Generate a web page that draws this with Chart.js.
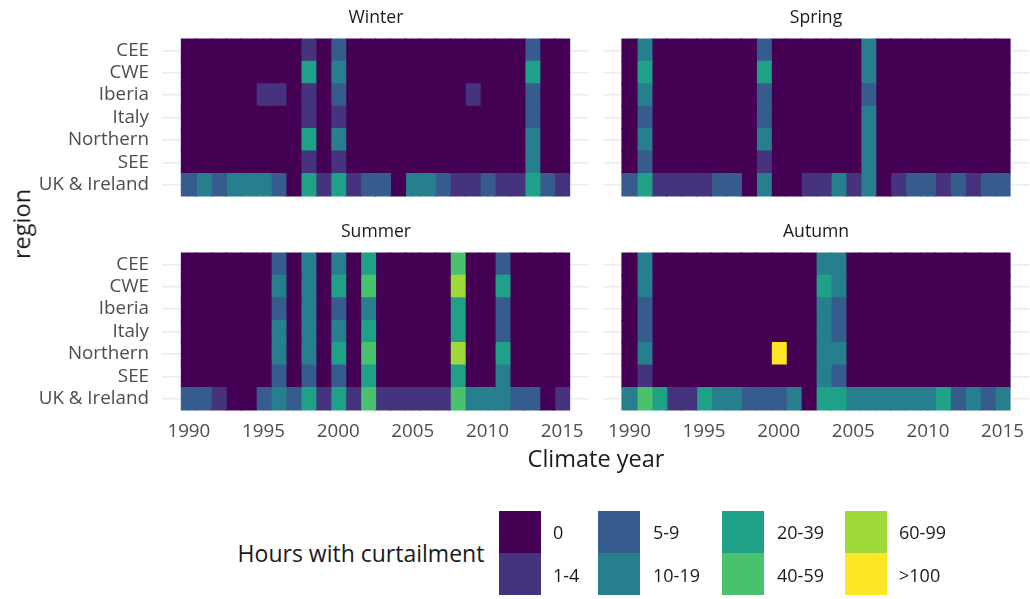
<!DOCTYPE html>
<html>
<head>
<meta charset="utf-8">
<script src="https://cdn.jsdelivr.net/npm/chart.js@4.4.0/dist/chart.umd.min.js"></script>
<style>
body { margin: 0; width: 1030px; height: 599px; background: #fff; position: relative; overflow: hidden; font-family: 'Open Sans', sans-serif; }
canvas { position: absolute; }
.txt { position: absolute; white-space: nowrap; line-height: 1; transform: translate(-50%, -50%); color: #1a1a1a; }
.key { position: absolute; width: 42px; height: 42px; }
.lab { position: absolute; white-space: nowrap; line-height: 1; transform: translateY(-50%); font-size: 18px; color: #1a1a1a; }
</style>
</head>
<body>
<canvas id="winter" width="600" height="210" style="left:0;top:0"></canvas>
<canvas id="spring" width="440" height="210" style="left:590px;top:0"></canvas>
<canvas id="summer" width="600" height="250" style="left:0;top:214px"></canvas>
<canvas id="autumn" width="440" height="250" style="left:590px;top:214px"></canvas>

<div class="txt" style="left:376px;top:17px;font-size:17.6px">Winter</div>
<div class="txt" style="left:816px;top:17px;font-size:17.6px">Spring</div>
<div class="txt" style="left:376px;top:231px;font-size:17.6px">Summer</div>
<div class="txt" style="left:816px;top:231px;font-size:17.6px">Autumn</div>
<div class="txt" style="left:596px;top:459px;font-size:23.5px">Climate year</div>
<div class="txt" style="left:22px;top:224px;font-size:23.5px;transform:translate(-50%,-50%) rotate(-90deg)">region</div>
<div class="txt" style="left:361px;top:553px;font-size:23px">Hours with curtailment</div>
<div id="legend"></div>

<script>
var years = [1990,1991,1992,1993,1994,1995,1996,1997,1998,1999,2000,2001,2002,
    2003,2004,2005,2006,2007,2008,2009,2010,2011,2012,2013,2014,2015];
var regions = ['CEE','CWE','Iberia','Italy','Northern','SEE','UK & Ireland'];
var classes = ['0','1-4','5-9','10-19','20-39','40-59','60-99','>100'];
var yearTicks = [1990,1995,2000,2005,2010,2015];
var yearMinor = [1992.5,1997.5,2002.5,2007.5,2012.5];

// class index (into classes) per region row, per climate year column
var winter = [
    [0,0,0,0,0,0,0,0,1,0,2,0,0,0,0,0,0,0,0,0,0,0,0,2,0,0],
    [0,0,0,0,0,0,0,0,4,0,3,0,0,0,0,0,0,0,0,0,0,0,0,4,0,0],
    [0,0,0,0,0,1,1,0,1,0,2,0,0,0,0,0,0,0,0,1,0,0,0,2,0,0],
    [0,0,0,0,0,0,0,0,1,0,1,0,0,0,0,0,0,0,0,0,0,0,0,2,0,0],
    [0,0,0,0,0,0,0,0,4,0,3,0,0,0,0,0,0,0,0,0,0,0,0,3,0,0],
    [0,0,0,0,0,0,0,0,1,0,1,0,0,0,0,0,0,0,0,0,0,0,0,3,0,0],
    [2,3,2,3,3,3,2,0,4,1,4,1,2,2,0,3,3,2,1,1,2,1,1,4,2,1]
];
var spring = [
    [0,3,0,0,0,0,0,0,0,2,0,0,0,0,0,0,3,0,0,0,0,0,0,0,0,0],
    [0,4,0,0,0,0,0,0,0,4,0,0,0,0,0,0,3,0,0,0,0,0,0,0,0,0],
    [0,3,0,0,0,0,0,0,0,2,0,0,0,0,0,0,2,0,0,0,0,0,0,0,0,0],
    [0,2,0,0,0,0,0,0,0,2,0,0,0,0,0,0,3,0,0,0,0,0,0,0,0,0],
    [0,3,0,0,0,0,0,0,0,3,0,0,0,0,0,0,3,0,0,0,0,0,0,0,0,0],
    [0,2,0,0,0,0,0,0,0,1,0,0,0,0,0,0,3,0,0,0,0,0,0,0,0,0],
    [2,4,1,1,1,1,2,2,0,3,0,0,1,1,3,1,3,0,1,2,2,1,2,1,2,2]
];
var summer = [
    [0,0,0,0,0,0,2,0,3,0,3,0,4,0,0,0,0,0,5,0,0,2,0,0,0,0],
    [0,0,0,0,0,0,3,0,3,0,4,0,5,0,0,0,0,0,6,0,0,4,0,0,0,0],
    [0,0,0,0,0,0,2,0,3,0,2,0,3,0,0,0,0,0,4,0,0,2,0,0,0,0],
    [0,0,0,0,0,0,3,0,3,0,3,0,4,0,0,0,0,0,4,0,0,2,0,0,0,0],
    [0,0,0,0,0,0,3,0,3,0,4,0,5,0,0,0,0,0,6,0,0,4,0,0,0,0],
    [0,0,0,0,0,0,2,0,2,0,2,0,4,0,0,0,0,0,4,0,0,3,0,0,0,0],
    [2,2,1,0,0,2,3,2,4,1,4,1,5,1,1,1,1,1,5,3,3,3,2,2,0,1]
];
var autumn = [
    [0,3,0,0,0,0,0,0,0,0,0,0,0,3,3,0,0,0,0,0,0,0,0,0,0,0],
    [0,3,0,0,0,0,0,0,0,0,0,0,0,4,3,0,0,0,0,0,0,0,0,0,0,0],
    [0,2,0,0,0,0,0,0,0,0,0,0,0,3,2,0,0,0,0,0,0,0,0,0,0,0],
    [0,2,0,0,0,0,0,0,0,0,0,0,0,3,2,0,0,0,0,0,0,0,0,0,0,0],
    [0,3,0,0,0,0,0,0,0,0,7,0,0,3,3,0,0,0,0,0,0,0,0,0,0,0],
    [0,1,0,0,0,0,0,0,0,0,0,0,0,3,2,0,0,0,0,0,0,0,0,0,0,0],
    [3,5,4,1,1,4,3,3,2,2,2,3,0,4,4,3,3,3,3,3,3,4,2,3,2,3]
];

var viridis = ['#440154','#46337E','#365C8D','#277F8E','#1FA187','#4AC16D','#9FDA3A','#FDE725'];
var font = {family: "'Open Sans', sans-serif", size: 18.8};
var gridColor = '#EBEBEB';

function noPad(s) {
    s.paddingTop = 0; s.paddingBottom = 0; s.paddingLeft = 0; s.paddingRight = 0;
}

function panel(id, season, showX, showY, pad, yw, xh) {
    var datasets = years.map(function (yr, j) {
        return {
            data: regions.map(function (r, i) { return {x: [yr - 0.5, yr + 0.5], y: i}; }),
            backgroundColor: regions.map(function (r, i) { return viridis[season[i][j]]; }),
            grouped: false,
            barPercentage: 1,
            categoryPercentage: 1,
            borderWidth: 0,
            inflateAmount: 0.6
        };
    });
    new Chart(document.getElementById(id), {
        type: 'bar',
        data: {datasets: datasets},
        options: {
            indexAxis: 'y',
            responsive: false,
            animation: false,
            layout: {padding: pad},
            plugins: {legend: {display: false}, tooltip: {enabled: false}},
            scales: {
                x: {
                    type: 'linear', min: 1988.2, max: 2016.8,
                    afterBuildTicks: function (s) {
                        s.ticks = yearTicks.concat(yearMinor).map(function (v) { return {value: v}; });
                    },
                    afterFit: function (s) { s.height = xh; noPad(s); },
                    grid: {
                        color: gridColor, drawTicks: false,
                        lineWidth: function (c) { return c.tick && c.tick.value % 5 === 0 ? 1.4 : 0.7; }
                    },
                    border: {display: false},
                    ticks: {
                        display: showX, autoSkip: false, maxRotation: 0, padding: 8,
                        color: '#4D4D4D', font: font,
                        callback: function (v) { return v % 5 === 0 ? String(v) : ''; }
                    }
                },
                y: {
                    type: 'linear', reverse: true, min: -0.6, max: 6.6, offset: false,
                    afterBuildTicks: function (s) {
                        s.ticks = regions.map(function (r, i) { return {value: i}; });
                    },
                    afterFit: function (s) { s.width = yw; noPad(s); },
                    grid: {color: gridColor, drawTicks: false, lineWidth: 1.4, offset: false},
                    border: {display: false},
                    ticks: {
                        display: showY, autoSkip: false, padding: 13, color: '#4D4D4D', font: font,
                        callback: function (v) { return regions[v]; }
                    }
                }
            }
        }
    });
}

panel('winter', winter, false, true, {top: 36.8, right: 11, bottom: 11.8, left: 0}, 162, 0);
panel('spring', spring, false, false, {top: 36.8, right: 0.6, bottom: 11.8, left: 0}, 12.6, 0);
panel('summer', summer, true, true, {top: 36.8, right: 11, bottom: 21.8, left: 0}, 162, 30);
panel('autumn', autumn, true, false, {top: 36.8, right: 0.6, bottom: 21.8, left: 0}, 12.6, 30);

// legend: two rows, filled column by column
var keyLeft = [499, 598, 722, 845];
var labLeft = [553, 653, 777, 899];
var legend = document.getElementById('legend');
classes.forEach(function (c, k) {
    var col = Math.floor(k / 2), row = k % 2;
    var key = document.createElement('div');
    key.className = 'key';
    key.style.left = keyLeft[col] + 'px';
    key.style.top = (511 + row * 42) + 'px';
    key.style.background = viridis[k];
    legend.appendChild(key);
    var lab = document.createElement('div');
    lab.className = 'lab';
    lab.style.left = labLeft[col] + 'px';
    lab.style.top = (532 + row * 43) + 'px';
    lab.textContent = c;
    legend.appendChild(lab);
});
</script>
</body>
</html>
